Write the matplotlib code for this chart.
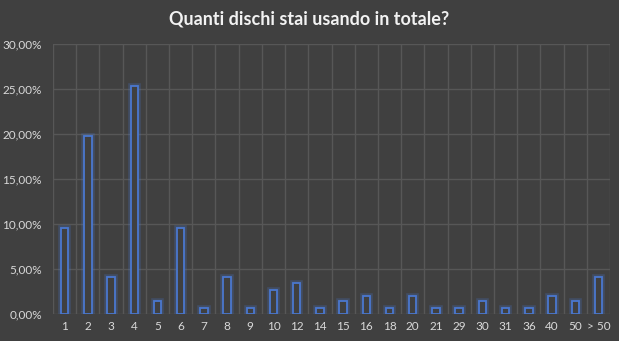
import numpy as np
import matplotlib.pyplot as plt
from matplotlib.ticker import FuncFormatter, MultipleLocator, FixedLocator

# categories (number of disks) and share of answers in %
categories = ['1', '2', '3', '4', '5', '6', '7', '8', '9', '10', '12', '14',
              '15', '16', '18', '20', '21', '29', '30', '31', '36', '40', '50', '> 50']
values = [9.6, 19.8, 4.1, 25.3, 1.4, 9.6, 0.7, 4.1, 0.7, 2.7, 3.4, 0.7,
          1.4, 2.0, 0.7, 2.0, 0.7, 0.7, 1.4, 0.7, 0.7, 2.0, 1.4, 4.1]

bg = '#404040'
grid_col = '#575757'
text_col = '#d9d9d9'
bar_col = '#4a78d0'

plt.rcParams['font.family'] = ['Lato', 'DejaVu Sans']

fig = plt.figure(figsize=(6.19, 3.41), dpi=100, facecolor=bg)
ax = fig.add_axes([0.0856, 0.0792, 0.9, 0.792])
ax.set_facecolor(bg)

x = np.arange(len(categories))
# soft glow under the outlined bars
ax.bar(x, values, width=0.32, facecolor='none', edgecolor=bar_col, linewidth=4, alpha=0.25, zorder=3)
ax.bar(x, values, width=0.32, facecolor=bg, edgecolor=bar_col, linewidth=1.3, zorder=4)

ax.set_xlim(-0.5, len(categories) - 0.5)
ax.set_ylim(0, 30)
ax.yaxis.set_major_locator(MultipleLocator(5))
ax.yaxis.set_major_formatter(FuncFormatter(lambda v, p: ('%.2f%%' % v).replace('.', ',')))
ax.set_xticks(x)
ax.set_xticklabels(categories)
ax.xaxis.set_minor_locator(FixedLocator(np.arange(-0.5, len(categories), 1)))

ax.grid(axis='y', which='major', color=grid_col, linewidth=1, zorder=0)
ax.grid(axis='x', which='minor', color=grid_col, linewidth=1, zorder=0)
ax.tick_params(which='both', length=0, colors=text_col, labelsize=8.5)
ax.tick_params(axis='y', pad=8)
ax.tick_params(axis='x', pad=5)
for s in ax.spines.values():
    s.set_visible(False)

fig.suptitle('Quanti dischi stai usando in totale?', color='#f2f2f2', fontsize=13,
             fontweight='bold', y=0.968)

fig.savefig('out.png', dpi=100, facecolor=bg)
